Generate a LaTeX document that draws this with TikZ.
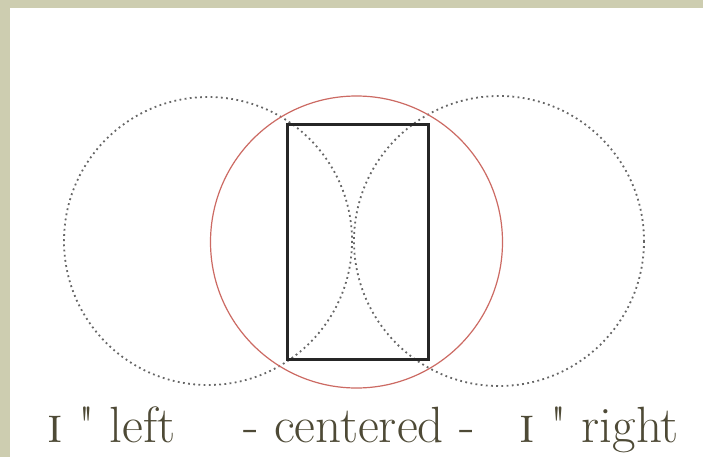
\documentclass[tikz,border=0pt]{standalone}
\usepackage{xcolor}
\definecolor{frame}{HTML}{CDCDB0}
\definecolor{ink}{HTML}{4E4A36}
\definecolor{redc}{HTML}{CC6A63}
\tikzset{
  dotcircle/.style={draw=black!60, line width=1.8pt, dash pattern=on 1.8pt off 3.4pt},
  redcircle/.style={draw=redc, line width=1.2pt},
  blackbox/.style={draw=black!85, line width=3pt},
  lab/.style={text=ink, font=\fontsize{51}{54}\selectfont, anchor=base west, inner sep=0pt}
}
\begin{document}
\begin{tikzpicture}[x=1pt,y=-1pt]
\useasboundingbox (0,0) rectangle (703,457);
\fill[frame] (0,0) rectangle (703,457);
\fill[white] (10,8) rectangle (703,457);
\draw[dotcircle] (208,241) circle[radius=144];
\draw[dotcircle] (499,241) circle[radius=145];
\draw[redcircle] (356.5,242) circle[radius=146];
\node[blackbox, minimum width=141pt, minimum height=234pt, inner sep=0pt] (box) at (357.5,242) {};
\node[lab] (left) at (47,442) {\textsc{i} \textquotedbl{} left};
\node[lab] (center) at (243,442) {- centered -};
\node[lab] (right) at (519,442) {\textsc{i} \textquotedbl{} right};
\end{tikzpicture}
\end{document}
